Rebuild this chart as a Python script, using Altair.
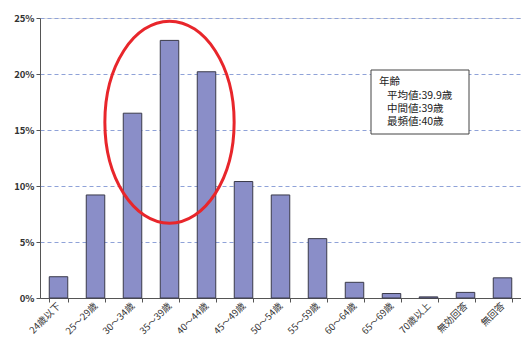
import altair as alt
import pandas as pd

# Age distribution of respondents (%)
categories = ["24歳以下", "25～29歳", "30～34歳", "35～39歳", "40～44歳", "45～49歳",
              "50～54歳", "55～59歳", "60～64歳", "65～69歳", "70歳以上", "無効回答", "無回答"]
shares = [1.9, 9.2, 16.5, 23.0, 20.2, 10.4, 9.2, 5.3, 1.4, 0.4, 0.1, 0.5, 1.8]
y_ticks = [0, 5, 10, 15, 20, 25]
note_title = "年齢"
note_lines = ["平均値:39.9歳", "中間値:39歳", "最頻値:40歳"]

# Highlight ring around the peak age groups
ring_category = ["35～39歳"]
ring_center = [15.7]

FONT = "Noto Sans CJK JP"

df = pd.DataFrame({"age": categories, "share": shares})

x_enc = alt.X("age:N", sort=categories, title=None,
              scale=alt.Scale(paddingInner=0.5, paddingOuter=0.25),
              axis=alt.Axis(labelAngle=-45, labelAlign="right", labelBaseline="middle",
                            labelFont=FONT, labelFontSize=9.5, labelColor="#333333",
                            labelPadding=2,
                            tickBand="extent", tickSize=4, tickColor="#555555",
                            domainColor="#555555", grid=False))

y_enc = alt.Y("share:Q", title=None,
              scale=alt.Scale(domain=[0, 25], nice=False),
              axis=alt.Axis(values=y_ticks, labelExpr="datum.value + '%'",
                            labelFont=FONT, labelFontSize=9.5, labelFontWeight="bold",
                            labelColor="#333333", tickSize=4, tickColor="#555555",
                            domainColor="#555555",
                            grid=True, gridColor="#8fa2d8", gridDash=[4, 3],
                            gridWidth=1))

bars = alt.Chart(df).mark_bar(
    fill="#8a8ec8", stroke="#3a3a4a", strokeWidth=1
).encode(x=x_enc, y=y_enc)

ring_df = pd.DataFrame({"age": ring_category, "share": ring_center})
ring = alt.Chart(ring_df).mark_point(
    shape="M -0.64 0 A 0.64 1 0 1 1 0.64 0 A 0.64 1 0 1 1 -0.64 0 Z",
    size=202 * 202, filled=False, stroke="#e8262b", strokeWidth=3, opacity=1
).encode(
    x=alt.X("age:N", sort=categories),
    y=alt.Y("share:Q"),
)

# Statistics note box
box = alt.Chart(pd.DataFrame({"k": [0]})).mark_rect(
    fill="white", stroke="#444444", strokeWidth=1
).encode(
    x=alt.value(331), x2=alt.value(429), y=alt.value(52), y2=alt.value(116)
)

note_layers = [
    alt.Chart(pd.DataFrame({"t": [note_title]})).mark_text(
        align="left", baseline="middle", font=FONT, fontSize=10.5, color="#222222"
    ).encode(x=alt.value(339), y=alt.value(64), text="t:N")
]
for i, line in enumerate(note_lines):
    note_layers.append(
        alt.Chart(pd.DataFrame({"t": [line]})).mark_text(
            align="left", baseline="middle", font=FONT, fontSize=10.5, color="#222222"
        ).encode(x=alt.value(347), y=alt.value(78 + i * 13), text="t:N")
    )

chart = alt.layer(bars, ring, box, *note_layers).properties(
    width=481, height=280,
    autosize=alt.AutoSizeParams(type="none"),
    padding={"left": 40, "top": 18, "right": 0, "bottom": 47},
).configure_view(stroke=None).configure(background="white")

chart.save("out.html", embed_options={"renderer": "svg", "actions": False})
